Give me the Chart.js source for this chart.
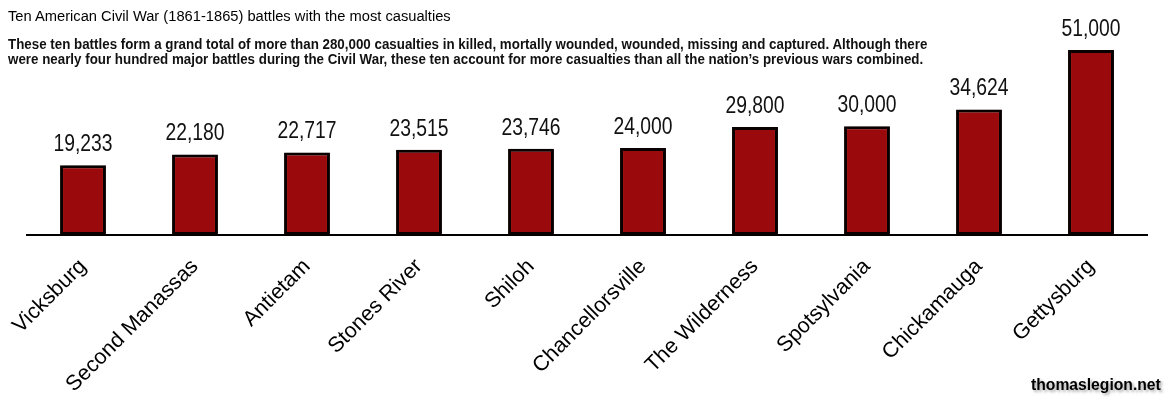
<!DOCTYPE html>
<html>
<head>
<meta charset="utf-8">
<script src="https://cdn.jsdelivr.net/npm/chart.js@4"></script>
<style>
  html, body { margin: 0; padding: 0; background: #fff; }
  #wrap { position: relative; width: 1168px; height: 402px; overflow: hidden; }
  #chart { position: absolute; left: 0; top: 0; }
  .title { position: absolute; left: 8px; top: 8px; font: 14.7px "Liberation Sans", Arial, sans-serif; color: #000; white-space: nowrap; }
  .sub { position: absolute; left: 8px; top: 36px; font: bold 15px "Liberation Sans", Arial, sans-serif; line-height: 15px; color: #111; white-space: nowrap; transform: scaleX(0.89); transform-origin: 0 0; }
  .mark { position: absolute; left: 1031px; top: 376px; font: bold 16px "Liberation Sans", Arial, sans-serif; color: #000; text-shadow: 2px 2px 3px rgba(0,0,0,0.35); transform: scaleX(0.98); transform-origin: 0 0; }
</style>
</head>
<body>
<div id="wrap">
  <canvas id="chart" width="1168" height="402"></canvas>
  <div class="title">Ten American Civil War (1861-1865) battles with the most casualties</div>
  <div class="sub">These ten battles form a grand total of more than 280,000 casualties in killed, mortally wounded, wounded, missing and captured. Although there<br>were nearly four hundred major battles during the Civil War, these ten account for more casualties than all the nation’s previous wars combined.</div>
  <div class="mark">thomaslegion.net</div>
</div>
<script>
// battles, lowest to highest
const battles = ['Vicksburg', 'Second Manassas', 'Antietam', 'Stones River', 'Shiloh',
  'Chancellorsville', 'The Wilderness', 'Spotsylvania', 'Chickamauga', 'Gettysburg'];
const casualties = [19233, 22180, 22717, 23515, 23746, 24000, 29800, 30000, 34624, 51000];

// narrow numbers above each bar (no narrow font installed, so squeeze regular one)
const valueLabels = {
  id: 'valueLabels',
  afterDatasetsDraw(chart) {
    const ctx = chart.ctx;
    const meta = chart.getDatasetMeta(0);
    const squeeze = 0.84;
    ctx.save();
    ctx.fillStyle = '#111';
    ctx.font = '23px "Liberation Sans", Arial, sans-serif';
    ctx.textAlign = 'center';
    ctx.textBaseline = 'bottom';
    meta.data.forEach((bar, i) => {
      ctx.save();
      ctx.translate(bar.x, bar.y - 9);
      ctx.scale(squeeze, 1);
      ctx.fillText(casualties[i].toLocaleString('en-US'), 0, 0);
      ctx.restore();
    });
    ctx.restore();
  }
};

const barShadow = {
  id: 'barShadow',
  beforeDatasetsDraw(chart) {
    const ctx = chart.ctx;
    ctx.save();
    ctx.shadowColor = 'rgba(0,0,0,0.22)';
    ctx.shadowBlur = 2;
    ctx.shadowOffsetX = 3;
    ctx.shadowOffsetY = 0;
  },
  afterDatasetsDraw(chart) {
    chart.ctx.restore();
  }
};

new Chart(document.getElementById('chart'), {
  type: 'bar',
  data: {
    labels: battles,
    datasets: [{
      data: casualties,
      backgroundColor: '#9a0a0c',
      borderColor: '#0a0000',
      borderWidth: 3,
      borderSkipped: false,
      categoryPercentage: 1,
      barPercentage: 0.41
    }]
  },
  options: {
    responsive: false,
    animation: false,
    devicePixelRatio: 1,
    layout: { padding: { left: 27, right: 21, top: 20, bottom: 0 } },
    plugins: { legend: { display: false }, tooltip: { enabled: false } },
    scales: {
      x: {
        grid: { display: false, drawTicks: false },
        border: { display: true, color: '#000', width: 2 },
        ticks: {
          color: '#000',
          font: { family: '"Liberation Sans", Arial, sans-serif', size: 21.5 },
          minRotation: 45,
          maxRotation: 45,
          padding: 19
        },
        afterFit(scale) {
          scale.height = 167;
          // let the first label hang past the left edge, as in the original
          scale.paddingLeft = 0;
          scale.paddingRight = 0;
        }
      },
      y: {
        display: false,
        min: 0,
        max: 59270
      }
    }
  },
  plugins: [barShadow, valueLabels]
});
</script>
</body>
</html>
